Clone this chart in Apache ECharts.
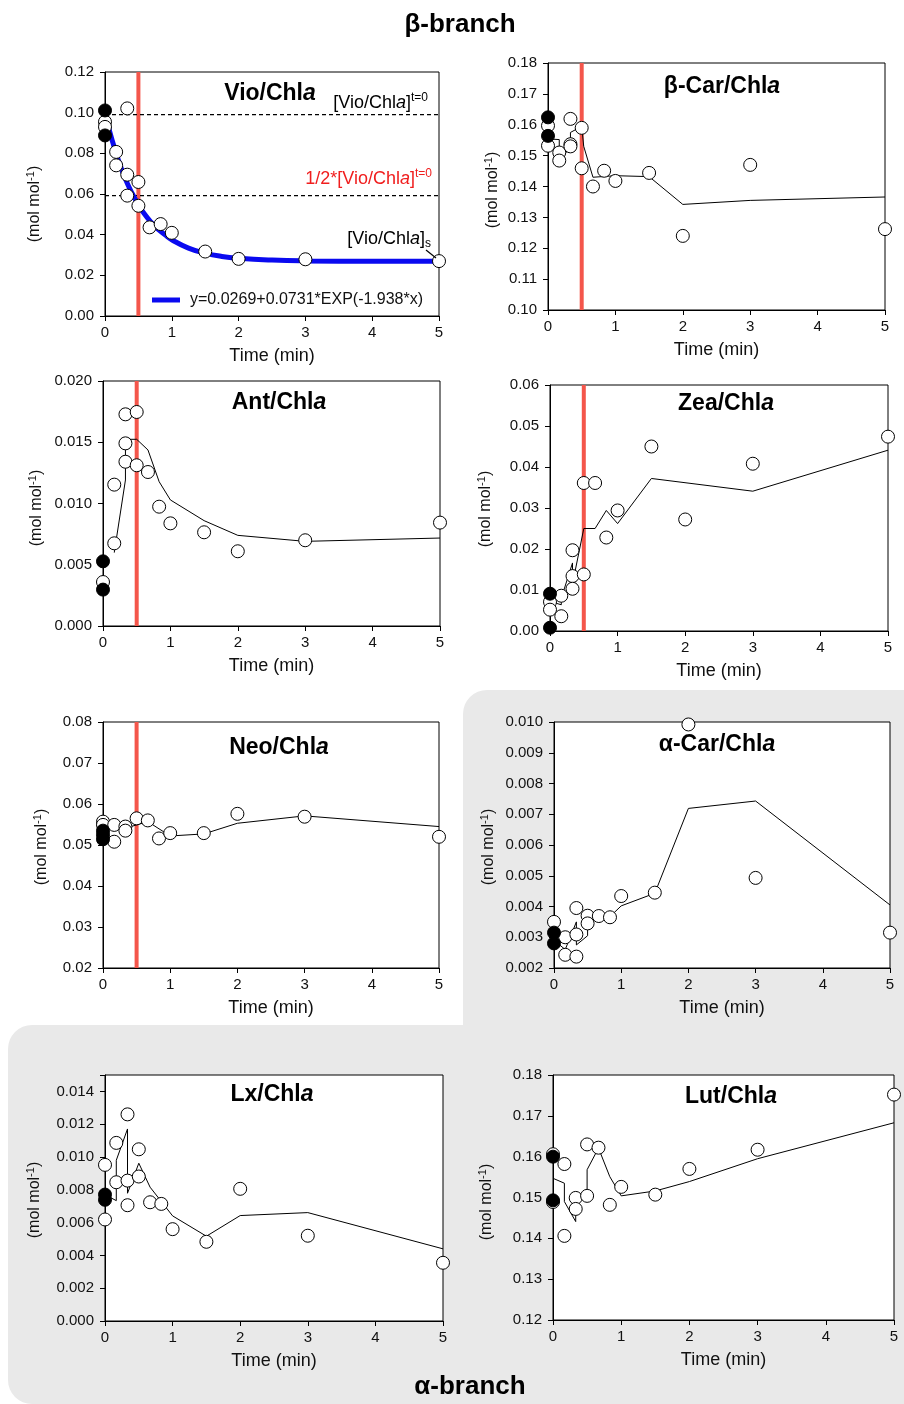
<!DOCTYPE html>
<html>
<head>
<meta charset="utf-8">
<script src="https://cdn.jsdelivr.net/npm/echarts@6/dist/echarts.min.js"></script>
<style>
html, body { margin: 0; padding: 0; background: #fff; }
#chart { width: 904px; height: 1404px; }
</style>
</head>
<body>
<div id="chart"></div>
<script>
// ---- data (time in min, ratio in mol/mol) ----
const redTime = 0.5;

// Vio/Chla
const vioFilled = [[0, 0.1011], [0, 0.0888]];
const vioOpen = [[0, 0.0955], [0, 0.0930], [0.167, 0.0807], [0.167, 0.0741], [0.333, 0.1021], [0.333, 0.0695],
  [0.333, 0.0592], [0.5, 0.0659], [0.5, 0.0542], [0.667, 0.0436], [0.833, 0.0452], [1, 0.0409],
  [1.5, 0.0317], [2, 0.0281], [3, 0.0279], [5, 0.0270]];
const vioFit = [[0.03, 0.0958], [0.1, 0.0872], [0.2, 0.0767], [0.3, 0.0678], [0.4, 0.0607], [0.5, 0.0547],
  [0.6, 0.0498], [0.75, 0.0440], [0.9, 0.0399], [1, 0.0375], [1.25, 0.0334], [1.5, 0.0309],
  [1.75, 0.0293], [2, 0.0284], [2.5, 0.0275], [3, 0.0271], [4, 0.0269], [5, 0.0269]];
const vioT0 = 0.099;
const vioHalf = 0.0592;
const fitName = 'y=0.0269+0.0731*EXP(-1.938*x)';

// β-Car/Chla
const bcarFilled = [[0, 0.1624], [0, 0.1564]];
const bcarOpen = [[0, 0.1597], [0, 0.1532], [0.167, 0.1510], [0.167, 0.1484], [0.333, 0.1619], [0.333, 0.1537],
  [0.333, 0.1530], [0.5, 0.1590], [0.5, 0.1459], [0.667, 0.1400], [0.833, 0.1451], [1, 0.1418],
  [1.5, 0.1444], [2, 0.1240], [3, 0.1470], [5, 0.1262]];
const bcarMean = [[0, 0.1554], [0.167, 0.1552], [0.167, 0.1500], [0.333, 0.1518], [0.333, 0.1575], [0.5, 0.1595],
  [0.53, 0.1530], [0.667, 0.1430], [1, 0.1435], [1.5, 0.1432], [2, 0.1342], [3, 0.1355], [5, 0.1366]];

// Ant/Chla
const antFilled = [[0, 0.00528], [0, 0.00297]];
const antOpen = [[0, 0.00359], [0.167, 0.00675], [0.167, 0.01154], [0.333, 0.01728], [0.333, 0.01491],
  [0.333, 0.01341], [0.5, 0.01747], [0.5, 0.01312], [0.667, 0.01257], [0.833, 0.00974], [1, 0.00838],
  [1.5, 0.00765], [2, 0.0061], [3, 0.0070], [5, 0.00844]];
const antMean = [[0.167, 0.00599], [0.333, 0.01192], [0.333, 0.01524], [0.5, 0.01524], [0.667, 0.01437],
  [0.833, 0.01178], [1, 0.01029], [1.5, 0.0086], [2, 0.0074], [3, 0.00691], [5, 0.00718]];

// Zea/Chla
const zeaFilled = [[0, 0.0091], [0, 0.0008]];
const zeaOpen = [[0, 0.0071], [0, 0.0052], [0.167, 0.0086], [0.167, 0.0036], [0.333, 0.0197], [0.333, 0.0134],
  [0.333, 0.0103], [0.5, 0.0361], [0.5, 0.0138], [0.667, 0.0361], [0.833, 0.0228], [1, 0.0294],
  [1.5, 0.045], [2, 0.0272], [3, 0.0408], [5, 0.0474]];
const zeaMean = [[0, 0.0072], [0.167, 0.0064], [0.167, 0.0080], [0.333, 0.0166], [0.333, 0.0115], [0.5, 0.025],
  [0.667, 0.025], [0.833, 0.0294], [1, 0.0262], [1.5, 0.0372], [3, 0.0341], [5, 0.0441]];

// Neo/Chla
const neoFilled = [[0, 0.0535], [0, 0.0514], [0, 0.0525]];
const neoOpen = [[0, 0.0557], [0, 0.0549], [0.167, 0.0549], [0.167, 0.0508], [0.333, 0.0545], [0.333, 0.0535],
  [0.5, 0.0565], [0.667, 0.0560], [0.833, 0.0516], [1, 0.0529], [1.5, 0.0529], [2, 0.0576],
  [3, 0.0569], [5, 0.0520]];
const neoMean = [[0, 0.0546], [0.167, 0.0538], [0.333, 0.0541], [0.5, 0.0549], [0.667, 0.0557], [1, 0.0522],
  [1.5, 0.0527], [2, 0.0553], [3, 0.0571], [5, 0.0545]];

// α-Car/Chla
const acarFilled = [[0, 0.00315], [0, 0.0028]];
const acarOpen = [[0, 0.0035], [0.167, 0.0030], [0.167, 0.00243], [0.333, 0.00395], [0.333, 0.00309],
  [0.333, 0.00237], [0.5, 0.0037], [0.5, 0.00345], [0.667, 0.00369], [0.833, 0.00365], [1, 0.00434],
  [1.5, 0.00445], [2, 0.00992], [3, 0.00493], [5, 0.00315]];
const acarMean = [[0, 0.0029], [0.167, 0.0026], [0.333, 0.0035], [0.333, 0.00275], [0.5, 0.00305], [0.5, 0.0035],
  [0.667, 0.0036], [0.833, 0.00367], [1, 0.00402], [1.5, 0.00443], [2, 0.00719], [3, 0.00743], [5, 0.00405]];

// Lx/Chla
const lxFilled = [[0, 0.00771], [0, 0.00739]];
const lxOpen = [[0, 0.00952], [0, 0.00619], [0.167, 0.01086], [0.167, 0.00846], [0.333, 0.0126], [0.333, 0.00856],
  [0.333, 0.00706], [0.5, 0.01047], [0.5, 0.00881], [0.667, 0.00724], [0.833, 0.00714], [1, 0.0056],
  [1.5, 0.00483], [2, 0.00806], [3, 0.0052], [5, 0.00355]];
const lxMean = [[0, 0.0077], [0.167, 0.00734], [0.167, 0.0098], [0.333, 0.01171], [0.333, 0.00779], [0.5, 0.00962],
  [0.667, 0.00816], [1, 0.00641], [1.5, 0.00517], [2, 0.00643], [3, 0.00661], [5, 0.0044]];

// Lut/Chla
const lutFilled = [[0, 0.1600], [0, 0.1493]];
const lutOpen = [[0, 0.1606], [0, 0.1489], [0.167, 0.1582], [0.167, 0.1406], [0.333, 0.1499], [0.333, 0.1472],
  [0.5, 0.1630], [0.5, 0.1504], [0.667, 0.1622], [0.833, 0.1482], [1, 0.1526], [1.5, 0.1507],
  [2, 0.1570], [3, 0.1617], [5, 0.1752]];
const lutMean = [[0, 0.1547], [0.167, 0.1535], [0.167, 0.1490], [0.333, 0.1441], [0.333, 0.1490], [0.5, 0.1502],
  [0.5, 0.1568], [0.667, 0.1621], [0.833, 0.1551], [1, 0.1504], [1.5, 0.1516], [2, 0.1539], [3, 0.1595], [5, 0.1683]];

// ---- layout ----
const FONT = 'Arial, "Liberation Sans", Helvetica, sans-serif';
const INK = '#111';

// box = [left, top, width, height]; y = [min, max, interval, last labelled tick]
const panels = [
  { name: 'Vio', box: [105, 72, 334, 244], y: [0, 0.12, 0.02, 0.12], dec: 2, open: vioOpen, filled: vioFilled, fit: vioFit, red: true, title: [270, 94], yName: [35, 204] },
  { name: 'β-Car', box: [548, 63, 337, 247], y: [0.10, 0.18, 0.01, 0.18], dec: 2, open: bcarOpen, filled: bcarFilled, mean: bcarMean, red: true, title: [722, 87], yName: [493, 190] },
  { name: 'Ant', box: [103, 381, 337, 245], y: [0, 0.02, 0.005, 0.02], dec: 3, open: antOpen, filled: antFilled, mean: antMean, red: true, title: [279, 403], yName: [37, 508] },
  { name: 'Zea', box: [550, 385, 338, 246], y: [0, 0.06, 0.01, 0.06], dec: 2, open: zeaOpen, filled: zeaFilled, mean: zeaMean, red: true, title: [726, 404], yName: [486, 509] },
  { name: 'Neo', box: [103, 722, 336, 246], y: [0.02, 0.08, 0.01, 0.08], dec: 2, open: neoOpen, filled: neoFilled, mean: neoMean, red: true, title: [279, 748], yName: [42, 847] },
  { name: 'α-Car', box: [554, 722, 336, 246], y: [0.002, 0.010, 0.001, 0.010], dec: 3, open: acarOpen, filled: acarFilled, mean: acarMean, red: false, title: [717, 745], yName: [489, 847] },
  { name: 'Lx', box: [105, 1075, 338, 246], y: [0, 0.015, 0.002, 0.014], dec: 3, open: lxOpen, filled: lxFilled, mean: lxMean, red: false, title: [272, 1095], yName: [35, 1200] },
  { name: 'Lut', box: [553, 1075, 341, 245], y: [0.12, 0.18, 0.01, 0.18], dec: 2, open: lutOpen, filled: lutFilled, mean: lutMean, red: false, title: [731, 1097], yName: [487, 1202] }
];

const grids = [], xAxes = [], yAxes = [], series = [];
const graphics = [
  // grey "alpha-branch" backdrop
  { type: 'rect', z: -10, shape: { x: 463, y: 690, width: 470, height: 420, r: 24 }, style: { fill: '#e9e9e9' } },
  { type: 'rect', z: -10, shape: { x: 8, y: 1025, width: 930, height: 379, r: 24 }, style: { fill: '#e9e9e9' } }
];

const titleRich = {
  b: { fontSize: 23, fontWeight: 'bold', fontFamily: FONT, fill: '#000' },
  bi: { fontSize: 23, fontWeight: 'bold', fontStyle: 'italic', fontFamily: FONT, fill: '#000' }
};
const yNameRich = {
  n: { fontSize: 16, fontFamily: FONT, fill: INK, lineHeight: 20 },
  sup: { fontSize: 11, fontFamily: FONT, fill: INK, lineHeight: 12, verticalAlign: 'top' }
};

panels.forEach((p, i) => {
  grids.push({
    left: p.box[0], top: p.box[1], width: p.box[2], height: p.box[3],
    show: true, backgroundColor: '#fff', borderColor: '#000', borderWidth: 1,
    containLabel: false, outerBoundsMode: 'none'
  });
  xAxes.push({
    gridIndex: i, type: 'value', min: 0, max: 5, interval: 1,
    name: 'Time (min)', nameLocation: 'middle', nameGap: 31,
    nameTextStyle: { fontSize: 18, color: INK, fontFamily: FONT },
    axisLine: { show: true, onZero: false, lineStyle: { color: '#000', width: 1 } },
    axisTick: { show: true, length: 5, lineStyle: { color: '#000' } },
    axisLabel: { fontSize: 15, color: INK, fontFamily: FONT, margin: 9 },
    splitLine: { show: false }
  });
  yAxes.push({
    gridIndex: i, type: 'value', min: p.y[0], max: p.y[1], interval: p.y[2],
    axisLine: { show: true, onZero: false, lineStyle: { color: '#000', width: 1 } },
    axisTick: { show: true, length: 5, lineStyle: { color: '#000' } },
    axisLabel: {
      fontSize: 15, color: INK, fontFamily: FONT, margin: 11,
      formatter: v => (v > p.y[3] + 1e-9 ? '' : v.toFixed(p.dec))
    },
    splitLine: { show: false }
  });

  if (p.red) {
    series.push({
      type: 'line', xAxisIndex: i, yAxisIndex: i, z: 1, silent: true, symbol: 'none',
      data: [[redTime, p.y[0]], [redTime, p.y[1]]],
      lineStyle: { color: '#f4564b', width: 4 }
    });
  }
  if (p.fit) {
    [vioT0, vioHalf].forEach(v => series.push({
      type: 'line', xAxisIndex: i, yAxisIndex: i, z: 2, silent: true, symbol: 'none',
      data: [[0, v], [5, v]],
      lineStyle: { color: '#000', width: 1.2, type: [4, 3] }
    }));
    series.push({
      name: fitName, type: 'line', xAxisIndex: i, yAxisIndex: i, z: 2, smooth: true,
      showSymbol: false, symbol: 'none', data: p.fit,
      itemStyle: { color: '#0a0af0' }, lineStyle: { color: '#0a0af0', width: 5 }
    });
  }
  if (p.mean) {
    series.push({
      type: 'line', xAxisIndex: i, yAxisIndex: i, z: 2, silent: true, symbol: 'none',
      data: p.mean, lineStyle: { color: '#000', width: 1 }
    });
  }
  series.push({
    type: 'scatter', xAxisIndex: i, yAxisIndex: i, z: 3, clip: false, symbolSize: 13,
    data: p.open, itemStyle: { color: '#fff', borderColor: '#000', borderWidth: 1, opacity: 1 }
  });
  series.push({
    type: 'scatter', xAxisIndex: i, yAxisIndex: i, z: 4, clip: false, symbolSize: 13,
    data: p.filled, itemStyle: { color: '#000', borderColor: '#000', borderWidth: 1, opacity: 1 }
  });

  graphics.push({
    type: 'text', z: 100, x: p.title[0], y: p.title[1],
    style: { text: '{b|' + p.name + '/Chl}{bi|a}', rich: titleRich, align: 'center', verticalAlign: 'middle' }
  });
  graphics.push({
    type: 'text', z: 100, x: p.yName[0], y: p.yName[1], rotation: Math.PI / 2,
    style: { text: '{n|(mol mol}{sup|-1}{n|)}', rich: yNameRich, align: 'center', verticalAlign: 'middle' }
  });
});

// Vio annotations
const annRich = color => ({
  n: { fontSize: 18, fontFamily: FONT, fill: color, lineHeight: 22 },
  i: { fontSize: 18, fontFamily: FONT, fontStyle: 'italic', fill: color, lineHeight: 22 },
  sup: { fontSize: 12, fontFamily: FONT, fill: color, lineHeight: 13, verticalAlign: 'top' },
  sub: { fontSize: 12, fontFamily: FONT, fill: color, lineHeight: 13, verticalAlign: 'bottom' }
});
graphics.push(
  { type: 'text', z: 100, x: 428, y: 103, style: { text: '{n|[Vio/Chl}{i|a}{n|]}{sup|t=0}', rich: annRich('#000'), align: 'right', verticalAlign: 'middle' } },
  { type: 'text', z: 100, x: 432, y: 179, style: { text: '{n|1/2*[Vio/Chl}{i|a}{n|]}{sup|t=0}', rich: annRich('#f01e1e'), align: 'right', verticalAlign: 'middle' } },
  { type: 'text', z: 100, x: 431, y: 239, style: { text: '{n|[Vio/Chl}{i|a}{n|]}{sub|s}', rich: annRich('#000'), align: 'right', verticalAlign: 'middle' } },
  { type: 'line', z: 100, shape: { x1: 426, y1: 250, x2: 436, y2: 258 }, style: { stroke: '#000', lineWidth: 1.2 } },
  { type: 'text', z: 100, x: 460, y: 25, style: { text: 'β-branch', fontSize: 26, fontWeight: 'bold', fontFamily: FONT, fill: '#000', align: 'center', verticalAlign: 'middle' } },
  { type: 'text', z: 100, x: 470, y: 1387, style: { text: 'α-branch', fontSize: 26, fontWeight: 'bold', fontFamily: FONT, fill: '#000', align: 'center', verticalAlign: 'middle' } }
);

const chart = echarts.init(document.getElementById('chart'), null, { renderer: 'canvas' });
chart.setOption({
  animation: false,
  backgroundColor: '#fff',
  grid: grids,
  xAxis: xAxes,
  yAxis: yAxes,
  legend: {
    left: 152, top: 292, padding: 0, selectedMode: false,
    data: [{ name: fitName, icon: 'rect' }],
    itemWidth: 28, itemHeight: 5, itemGap: 10,
    textStyle: { fontSize: 16, color: INK, fontFamily: FONT, padding: [0, 0, 0, 5] }
  },
  graphic: { elements: graphics },
  series: series
});
</script>
</body>
</html>
